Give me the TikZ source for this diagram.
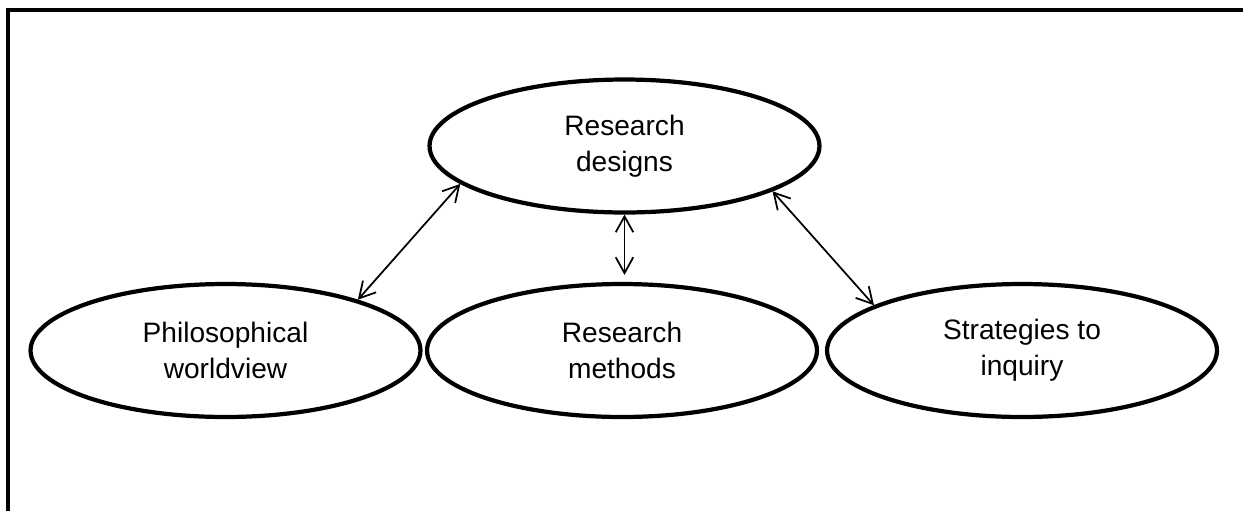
\documentclass[tikz,border=0pt]{standalone}
\usepackage{fontspec}
\setmainfont{Liberation Sans}
\usetikzlibrary{shapes.geometric,arrows.meta}

\begin{document}
\begin{tikzpicture}[x=0.02cm, y=-0.02cm,
		oval/.style={ellipse, draw, line width=2.4pt, minimum width=7.8cm, minimum height=2.66cm,
			align=center, font=\fontsize{16}{20.5}\selectfont, inner sep=0pt},
		link/.style={{Straight Barb[length=9pt,width=10pt]}-{Straight Barb[length=9pt,width=10pt]}, line width=1pt}]
			\useasboundingbox (0,0) rectangle (1243,511);

			% Рамка
			\draw[line width=2.3pt] (8,511) -- (8,10) -- (1243,10);

			% Эллипсы
			\node[oval] (rd) at (624.5,146) {Research\\designs};
			\node[oval] (pw) at (225.5,350.5) {Philosophical\\worldview};
			\node[oval] (rm) at (622,350.5) {Research\\methods};
			\node[oval] (si) at (1022,350.5) {Strategies to\\inquiry};

			% Стрелки
			\draw[link] (pw.21) -- (rd.193);
			\draw[link] (rd.south) -- ([yshift=4pt]rd.south |- rm.north);
			\draw[link] (rd.343) -- (si.163);
		\end{tikzpicture}
\end{document}
